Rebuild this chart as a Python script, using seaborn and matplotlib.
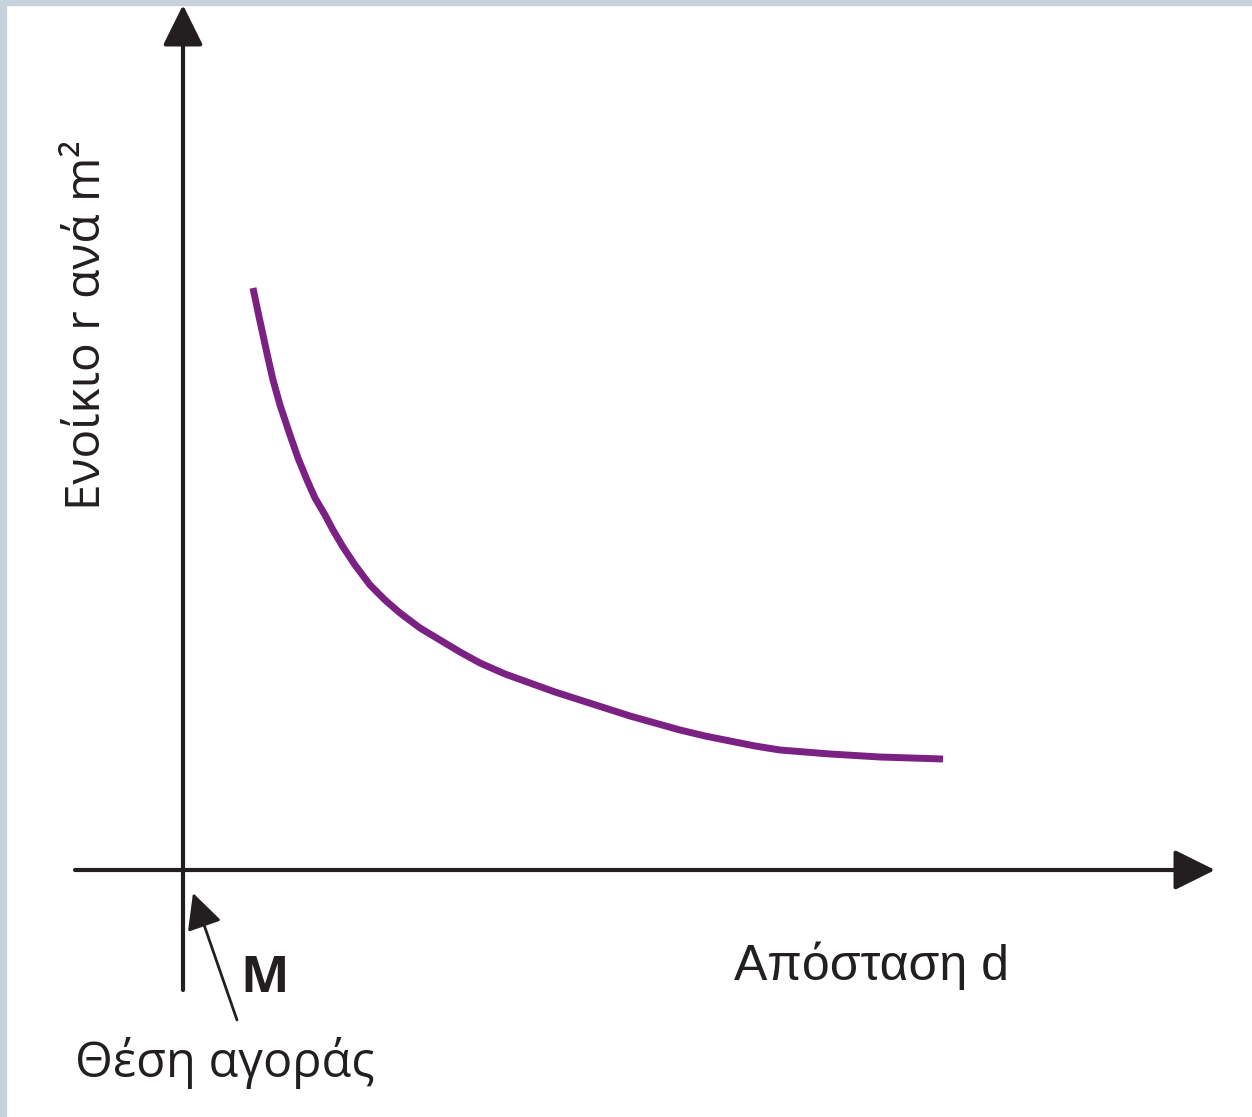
import numpy as np
import pandas as pd
import matplotlib
matplotlib.use('Agg')
import matplotlib.pyplot as plt
from matplotlib.patches import Rectangle
import seaborn as sns

sns.set_style('white')
plt.rcParams['font.family'] = ['Open Sans', 'DejaVu Sans']

# curve (distance d, rent r per m2), arbitrary units
distance = [0.70, 0.75, 0.80, 0.85, 0.90, 0.97, 1.07, 1.15, 1.24, 1.32,
            1.42, 1.50, 1.60, 1.72, 1.87, 2.02, 2.17, 2.37, 2.57, 2.77,
            2.97, 3.22, 3.47, 3.72, 3.97, 4.22, 4.47, 4.72, 4.97, 5.22,
            5.47, 5.72, 5.97, 6.47, 6.97, 7.60]
rent = [5.82, 5.58, 5.35, 5.12, 4.90, 4.65, 4.35, 4.12, 3.90, 3.72,
        3.55, 3.40, 3.23, 3.05, 2.85, 2.70, 2.57, 2.42, 2.30, 2.18,
        2.07, 1.96, 1.87, 1.78, 1.70, 1.62, 1.54, 1.47, 1.40, 1.34,
        1.29, 1.24, 1.20, 1.16, 1.13, 1.11]

ylabel = 'Ενοίκιο r ανά m²'
xlabel = 'Απόσταση d'
market_label = 'Θέση αγοράς'
origin_label = 'M'

df = pd.DataFrame({'d': distance, 'r': rent})

fig = plt.figure(figsize=(12.52, 11.17), dpi=100)
ax = fig.add_axes([0, 0, 1, 1])
ax.set_xlim(-1.83, 10.69)
ax.set_ylim(-2.47, 8.70)
ax.axis('off')

ink = '#231f20'

# axes with arrow heads
ax.annotate('', xy=(10.32, 0), xytext=(-1.08, 0),
            arrowprops=dict(arrowstyle='-|>,head_length=1.25,head_width=0.62',
                            lw=3, color=ink, mutation_scale=20,
                            shrinkA=0, shrinkB=0))
ax.annotate('', xy=(0, 8.65), xytext=(0, -1.20),
            arrowprops=dict(arrowstyle='-|>,head_length=1.25,head_width=0.62',
                            lw=3, color=ink, mutation_scale=20,
                            shrinkA=0, shrinkB=0))

sns.lineplot(data=df, x='d', y='r', color='#7b2183', linewidth=5,
             solid_capstyle='butt', solid_joinstyle='round', ax=ax)

# pointer to market location
ax.annotate('', xy=(0.10, -0.23), xytext=(0.54, -1.50),
            arrowprops=dict(arrowstyle='-|>,head_length=1.1,head_width=0.55',
                            lw=2, color=ink, mutation_scale=20,
                            shrinkA=0, shrinkB=0))

ax.text(-0.96, 5.45, ylabel, rotation=90, ha='center', va='center',
        fontsize=34.5, color=ink)
ax.text(6.89, -1.10, xlabel, ha='center', va='baseline', fontsize=36,
        color=ink, family=['Liberation Sans', 'DejaVu Sans'])
ax.text(-1.08, -2.07, market_label, ha='left', va='baseline', fontsize=35,
        color=ink)
ax.text(0.57, -1.22, origin_label, ha='left', va='baseline', fontsize=37,
        fontweight='bold', color=ink)

# grey frame on top and left edges
fig.patches.append(Rectangle((0, 1 - 5 / 1117), 1, 5 / 1117,
                             transform=fig.transFigure, color='#c8d2da', zorder=0))
fig.patches.append(Rectangle((0, 0), 6 / 1252, 1,
                             transform=fig.transFigure, color='#c8d2da', zorder=0))

fig.savefig('out.png', dpi=100)
